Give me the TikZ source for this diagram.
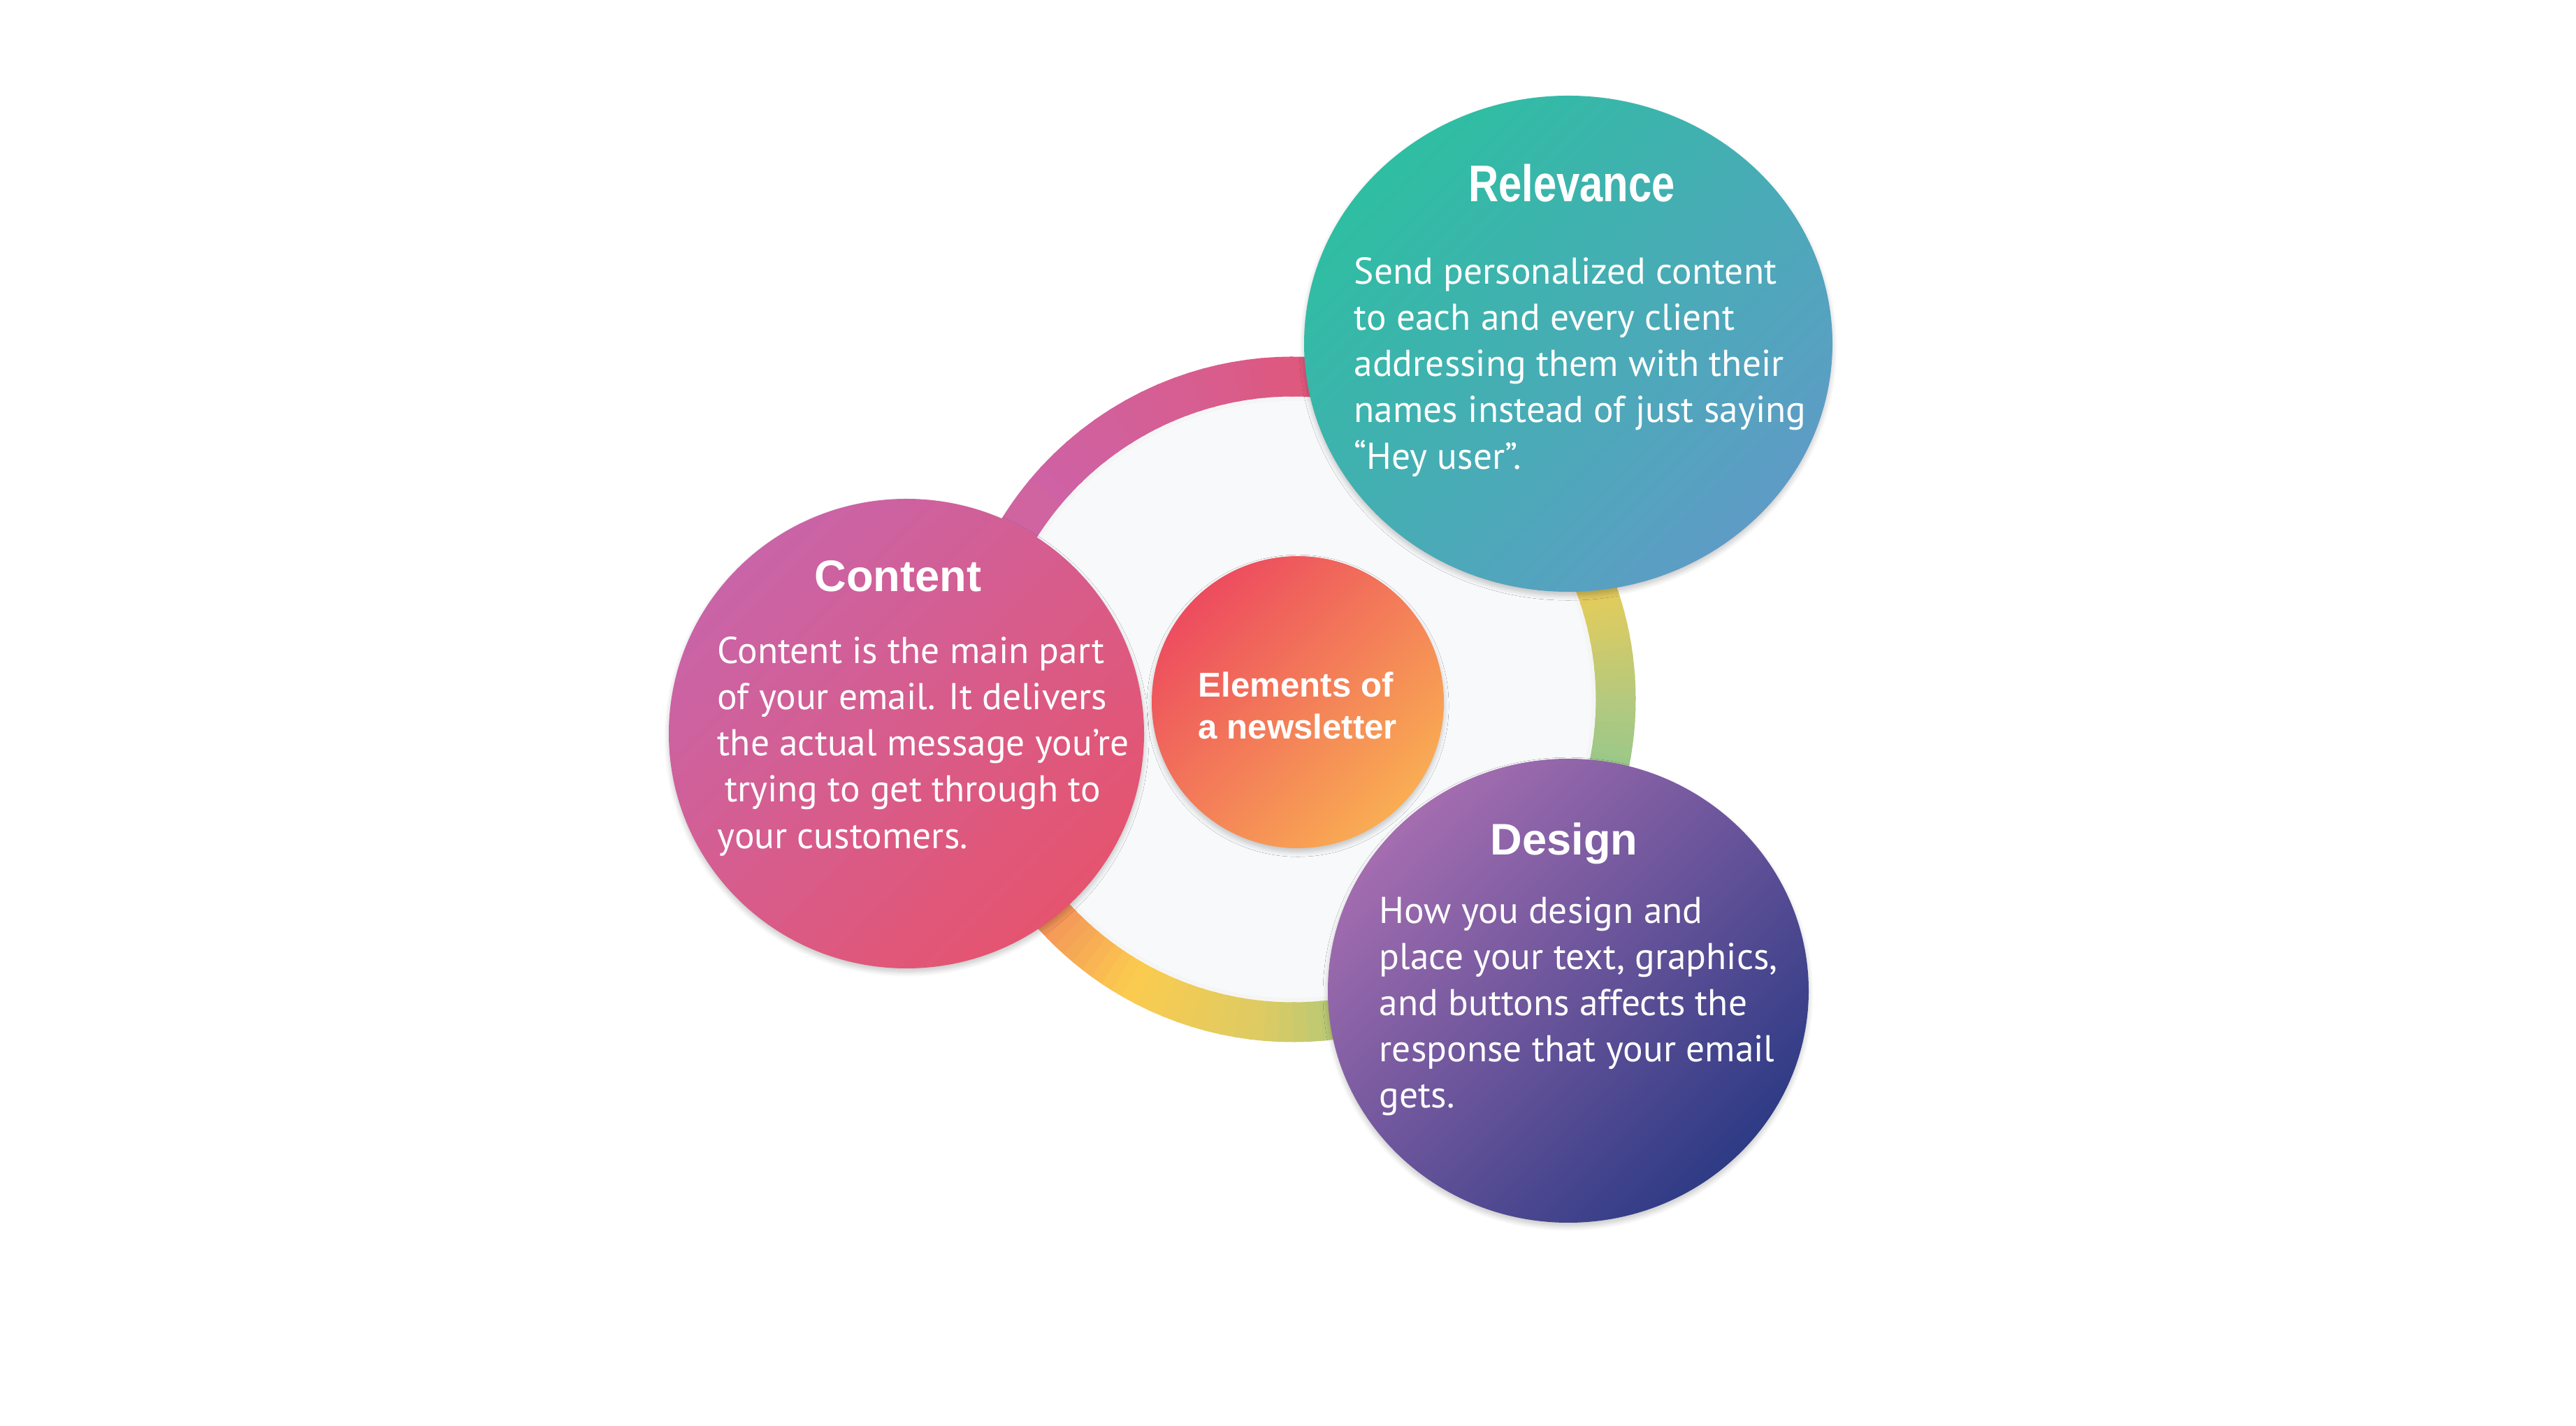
\documentclass[tikz,border=0pt]{standalone}
\usepackage{fontspec}
\setmainfont{PT Sans}
\newfontfamily\headfont{Liberation Sans}
\newfontfamily\narrowfont[FakeStretch=0.81]{Liberation Sans}
\usepackage{xcolor}
\usetikzlibrary{shadows.blur}

\definecolor{contentA}{HTML}{C964A8}
\definecolor{contentB}{HTML}{E5546F}
\definecolor{relevA}{HTML}{2EBEA2}
\definecolor{relevB}{HTML}{5E9CC6}
\definecolor{designA}{HTML}{A46DB0}
\definecolor{designB}{HTML}{2E3B85}
\definecolor{hubA}{HTML}{ED4C5E}
\definecolor{hubB}{HTML}{F9AD53}
\definecolor{diskfill}{HTML}{F8F9FA}
\definecolor{ringA}{HTML}{F28D5B}
\definecolor{ringB}{HTML}{FCCB4E}
\definecolor{ringC}{HTML}{DCCB63}
\definecolor{ringD}{HTML}{93C78B}
\definecolor{ringE}{HTML}{86C690}
\definecolor{ringF}{HTML}{B5C97E}
\definecolor{ringG}{HTML}{E1CC5C}
\definecolor{ringH}{HTML}{F08A68}
\definecolor{ringI}{HTML}{E0577A}
\definecolor{ringJ}{HTML}{D65E92}
\definecolor{ringK}{HTML}{CE62A5}

\begin{document}
\begin{tikzpicture}[
  bubble/.style={blur shadow={shadow blur steps=8, shadow xshift=0pt, shadow yshift=-1.5pt, shadow opacity=22}},
  bubbletitle/.style={text=white, font=\headfont\bfseries\fontsize{18}{21}\selectfont, inner sep=0pt, anchor=base},
  bubbletext/.style={text=white, align=left, font=\fontsize{15.2}{18.8}\selectfont, inner sep=0pt, anchor=north west},
  ringseg/.style={line width=0.57cm}
]
\useasboundingbox (0,0) rectangle (36.86,20.41);

\coordinate (hub) at (18.50,10.40);
\fill[diskfill] (hub) circle (4.34);
\draw[black!4, line width=1.5pt] (hub) circle (4.30);

% colour ring
\foreach \ta/\tb/\ca/\cb in {-140/-120/ringA/ringB, -120/-95/ringB/ringC, -95/-70/ringC/ringD,
    -70/-20/ringD/ringE, -20/0/ringE/ringF, 0/18/ringF/ringG, 18/50/ringG/ringH,
    50/85/ringH/ringI, 85/110/ringI/ringJ, 110/140/ringJ/ringK, 140/220/ringK/ringA} {
  \foreach \k in {0,...,9} {
    \pgfmathsetmacro\s{\ta+(\tb-\ta)*\k/10}
    \pgfmathsetmacro\e{\ta+(\tb-\ta)*(\k+1)/10+0.5}
    \pgfmathtruncatemacro\p{95-10*\k}
    \draw[ringseg, draw=\ca!\p!\cb] (hub) ++(\s:4.62) arc[start angle=\s, end angle=\e, radius=4.62];
  }
}

% bubbles
\shade[bubble, top color=hubA, bottom color=hubB, shading angle=45] (18.57,10.36) circle (2.09);
\shade[bubble, top color=contentA, bottom color=contentB, shading angle=45] (12.97,9.91) ellipse [x radius=3.40, y radius=3.36];
\shade[bubble, top color=relevA, bottom color=relevB, shading angle=45] (22.44,15.49) ellipse [x radius=3.78, y radius=3.55];
\shade[bubble, top color=designA, bottom color=designB, shading angle=45] (22.44,6.23) ellipse [x radius=3.44, y radius=3.32];

% texts
\node[text=white, align=left, inner sep=0pt, anchor=north west, font=\headfont\bfseries\fontsize{14}{17}\selectfont] (hubT) at (17.14,10.80) {Elements of\\a newsletter};

\node[bubbletitle] (contentT) at (12.85,11.94) {Content};
\node[bubbletext] (contentB) at (10.26,11.30) {Content is the main part\\of your email. It delivers\\the actual message you’re\\\hspace{3pt}trying to get through to\\your customers.};

\node[bubbletitle, font=\narrowfont\bfseries\fontsize{21}{24}\selectfont] (relevT) at (22.49,17.52) {Relevance};
\node[bubbletext] (relevB) at (19.37,16.73) {Send personalized content\\to each and every client\\addressing them with their\\names instead of just saying\\“Hey user”.};

\node[bubbletitle] (designT) at (22.38,8.17) {Design};
\node[bubbletext] (designB) at (19.73,7.58) {How you design and\\place your text, graphics,\\and buttons affects the\\response that your email\\gets.};
\end{tikzpicture}
\end{document}
